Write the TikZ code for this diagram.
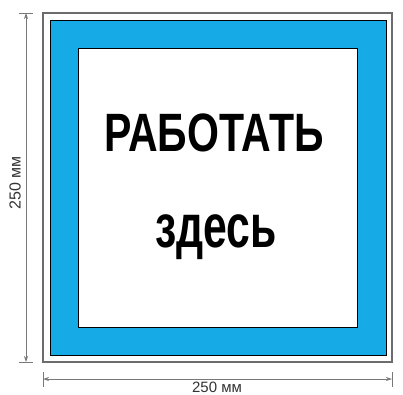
\documentclass[tikz,border=0pt]{standalone}
\usepackage{fontspec}
\setmainfont{Liberation Sans}
\newfontfamily\signfont[FakeStretch=0.76]{Liberation Sans}
\newfontfamily\signfontlow[FakeStretch=0.70]{Liberation Sans}
\usepackage{xcolor}
\usetikzlibrary{positioning,arrows.meta,calc}
\definecolor{signblue}{RGB}{22,170,230}
\definecolor{dimgray}{RGB}{120,120,120}

\begin{document}
\begin{tikzpicture}[
    x=1pt, y=-1pt,
    frame/.style={draw=gray!85!black, line width=1.4pt},
    border/.style={draw=black, line width=0.7pt},
    dimline/.style={draw=dimgray, line width=0.8pt, {Stealth[length=6pt,width=4pt]}-{Stealth[length=6pt,width=4pt]}},
    tick/.style={draw=dimgray, line width=0.8pt},
    dimlabel/.style={text=black!80, inner sep=0pt}
]
\useasboundingbox (0,0) rectangle (403,394);

% Sign frames
\draw[frame] (43,13) rectangle (392,362);
\draw[border, fill=signblue] (50,20) rectangle (386,355);
\draw[border, fill=white] (78,48) rectangle (357,327);

% Sign text
\node[anchor=base, inner sep=0pt] (work) at (214,151)
    {\signfont\bfseries\fontsize{54}{60}\selectfont РАБОТАТЬ};
\node[anchor=base, inner sep=0pt] (here) at (216,247)
    {\signfontlow\bfseries\fontsize{61}{66}\selectfont здесь};

% Dimension ends
\coordinate (vtop) at (26,13);
\coordinate (vbot) at (26,362);
\coordinate (hleft) at (43,379);
\coordinate (hright) at (392,379);

% Vertical dimension
\draw[tick] ($(vtop)+(-7,0)$) -- ($(vtop)+(7,0)$);
\draw[tick] ($(vbot)+(-7,0)$) -- ($(vbot)+(7,0)$);
\draw[dimline] (vtop) -- (vbot);
\node[dimlabel, rotate=90, font=\fontsize{16}{18}\selectfont] (vlabel) at (15,183) {250 мм};

% Horizontal dimension
\draw[tick] ($(hleft)+(0,-7)$) -- ($(hleft)+(0,8)$);
\draw[tick] ($(hright)+(0,-7)$) -- ($(hright)+(0,8)$);
\draw[dimline] (hleft) -- (hright);
\node[dimlabel, anchor=base, font=\fontsize{15}{17}\selectfont] (hlabel) at (217,392) {250 мм};

\end{tikzpicture}
\end{document}
